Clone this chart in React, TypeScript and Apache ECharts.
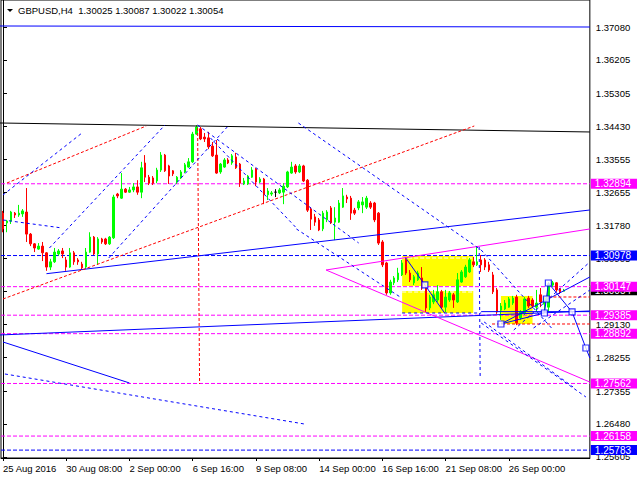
import React, { useEffect, useRef } from "react";
import * as echarts from "echarts";

const FONT = '"Liberation Sans", Arial, sans-serif';

// ---- time axis (H4 bars) ----
const tradingDays = ["25 Aug", "26 Aug", "29 Aug", "30 Aug", "31 Aug", "1 Sep", "2 Sep", "5 Sep", "6 Sep", "7 Sep", "8 Sep", "9 Sep", "12 Sep", "13 Sep", "14 Sep", "15 Sep", "16 Sep", "19 Sep", "20 Sep", "21 Sep", "22 Sep", "23 Sep", "26 Sep", "27 Sep", "28 Sep"];
const barHours = ["00:00", "04:00", "08:00", "12:00", "16:00", "20:00"];
const FIRST_BAR = 4; // 25 Aug 16:00
const FUTURE_SLOTS = 6;

// ---- OHLC values ----
const opens = [1.3211,1.3185,1.3190,1.3211,1.3206,1.3209,1.3214,1.3155,1.3129,1.3115,1.3123,1.3105,1.3067,1.3081,1.3102,1.3110,1.3086,1.3067,1.3105,1.3086,
1.3075,1.3067,1.3107,1.3147,1.3102,1.3142,1.3142,1.3129,1.3145,1.3262,1.3251,1.3275,1.3267,1.3273,1.3281,1.3267,1.3345,1.3307,1.3305,1.3297,
1.3326,1.3366,1.3337,1.3324,1.3294,1.3305,1.3321,1.3334,1.3348,1.3422,1.3436,1.3414,1.3412,1.3390,1.3366,1.3321,1.3334,1.3353,1.3345,1.3361,
1.3342,1.3289,1.3289,1.3307,1.3329,1.3294,1.3302,1.3260,1.3262,1.3267,1.3265,1.3267,1.3281,1.3318,1.3337,1.3321,1.3337,1.3299,1.3222,1.3201,
1.3193,1.3169,1.3193,1.3225,1.3187,1.3187,1.3227,1.3254,1.3251,1.3219,1.3225,1.3233,1.3227,1.3238,1.3238,1.3211,1.3134,1.3078,1.2998,1.3025,
1.3033,1.3046,1.3086,1.3051,1.3025,1.3033,1.3038,1.3011,1.2958,1.2974,1.2979,1.3001,1.2960,1.2979,1.2993,1.2974,1.3027,1.3041,1.3054,1.3081,
1.3073,1.3086,1.3086,1.3073,1.3046,1.3006,1.2952,1.2955,1.2960,1.2971,1.2987,1.2931,1.2944,1.2984,1.2979,1.2960,1.2993,1.2968,1.2960,1.3019,
1.3025,1.3009,1.30025];
const highs = [1.3217,1.3193,1.3217,1.3214,1.3233,1.3222,1.3278,1.3158,1.3131,1.3131,1.3134,1.3107,1.3089,1.3118,1.3115,1.3118,1.3094,1.3118,1.3110,1.3091,
1.3081,1.3118,1.3160,1.3150,1.3147,1.3145,1.3145,1.3150,1.3260,1.3265,1.3318,1.3278,1.3281,1.3291,1.3299,1.3348,1.3366,1.3313,1.3310,1.3332,
1.3374,1.3369,1.3340,1.3326,1.3310,1.3326,1.3345,1.3358,1.3428,1.3446,1.3441,1.3425,1.3428,1.3401,1.3406,1.3345,1.3358,1.3358,1.3369,1.3372,
1.3345,1.3305,1.3313,1.3334,1.3332,1.3307,1.3305,1.3278,1.3270,1.3275,1.3278,1.3291,1.3324,1.3348,1.3342,1.3342,1.3340,1.3302,1.3227,1.3209,
1.3198,1.3217,1.3219,1.3230,1.3227,1.3246,1.3278,1.3260,1.3257,1.3225,1.3246,1.3254,1.3257,1.3243,1.3241,1.3214,1.3139,1.3081,1.3033,1.3043,
1.3065,1.3086,1.3091,1.3059,1.3046,1.3057,1.3067,1.3014,1.2993,1.3006,1.3019,1.3006,1.3006,1.3003,1.2998,1.3051,1.3059,1.3073,1.3091,1.3094,
1.3121,1.3099,1.3091,1.3081,1.3054,1.3011,1.2971,1.2979,1.2987,1.2990,1.2993,1.2952,1.2987,1.2990,1.2984,1.3006,1.3011,1.2987,1.3027,1.3030,
1.3027,1.3011,1.30087];
const lows = [1.3160,1.3160,1.3182,1.3198,1.3201,1.3201,1.3134,1.3123,1.3107,1.3113,1.3083,1.3057,1.3059,1.3078,1.3097,1.3091,1.3057,1.3065,1.3073,1.3073,
1.3059,1.3062,1.3105,1.3099,1.3073,1.3129,1.3126,1.3126,1.3142,1.3251,1.3249,1.3265,1.3265,1.3267,1.3260,1.3251,1.3294,1.3286,1.3286,1.3291,
1.3321,1.3321,1.3289,1.3310,1.3289,1.3302,1.3318,1.3332,1.3345,1.3420,1.3406,1.3401,1.3382,1.3361,1.3316,1.3316,1.3332,1.3342,1.3340,1.3329,
1.3281,1.3286,1.3286,1.3305,1.3283,1.3291,1.3235,1.3246,1.3257,1.3254,1.3262,1.3235,1.3278,1.3316,1.3316,1.3318,1.3294,1.3214,1.3166,1.3177,
1.3163,1.3163,1.3187,1.3182,1.3139,1.3185,1.3225,1.3238,1.3193,1.3206,1.3219,1.3211,1.3222,1.3222,1.3187,1.3126,1.3067,1.2993,1.2993,1.3019,
1.3027,1.3043,1.3046,1.3027,1.3019,1.3030,1.3006,1.2947,1.2952,1.2968,1.2974,1.2955,1.2947,1.2974,1.2958,1.2971,1.3025,1.3038,1.3051,1.3067,
1.3070,1.3054,1.3059,1.3054,1.2995,1.2942,1.2926,1.2952,1.2958,1.2966,1.2912,1.2926,1.2939,1.2958,1.2958,1.2947,1.2960,1.2947,1.2947,1.3014,
1.3001,1.2995,1.30022];
const closes = [1.3169,1.3190,1.3214,1.3206,1.3211,1.3217,1.3155,1.3129,1.3118,1.3123,1.3105,1.3067,1.3081,1.3107,1.3110,1.3102,1.3067,1.3105,1.3081,1.3081,
1.3065,1.3107,1.3147,1.3102,1.3142,1.3134,1.3129,1.3147,1.3254,1.3257,1.3275,1.3267,1.3273,1.3281,1.3267,1.3332,1.3307,1.3291,1.3291,1.3326,
1.3366,1.3324,1.3310,1.3316,1.3307,1.3321,1.3340,1.3348,1.3422,1.3441,1.3409,1.3409,1.3388,1.3364,1.3318,1.3342,1.3353,1.3345,1.3364,1.3332,
1.3291,1.3297,1.3310,1.3326,1.3294,1.3302,1.3260,1.3270,1.3265,1.3267,1.3273,1.3283,1.3321,1.3334,1.3321,1.3337,1.3297,1.3219,1.3195,1.3187,
1.3166,1.3211,1.3214,1.3185,1.3198,1.3238,1.3257,1.3249,1.3211,1.3211,1.3241,1.3241,1.3251,1.3227,1.3193,1.3131,1.3073,1.2998,1.3027,1.3038,
1.3051,1.3078,1.3051,1.3033,1.3041,1.3051,1.3011,1.2958,1.2987,1.2993,1.3001,1.2960,1.2987,1.2998,1.2979,1.3033,1.3054,1.3067,1.3086,1.3073,
1.3081,1.3073,1.3067,1.3059,1.3001,1.2947,1.2963,1.2971,1.2982,1.2984,1.2918,1.2947,1.2982,1.2963,1.2963,1.2971,1.2974,1.2984,1.3022,1.3025,
1.3006,1.3001,1.30054];

// ---- price scale ----
const Y_MAX = 1.37801;
const Y_MIN = 1.25572;
const yTickLabels = [1.3708, 1.36205, 1.35305, 1.3443, 1.33555, 1.32655, 1.3178, 1.30905, 1.3003, 1.2913, 1.28255, 1.27355, 1.2648, 1.25605];
const magentaLevels = [1.32894, 1.30147, 1.29385, 1.28892, 1.27562, 1.26158];
const blueLevels = [1.30978, 1.25783];

// ---- drawn objects: anchor points as [bar index, price] ----
const blueSolidLines = [
  [[-0.75, 1.37107], [148.5, 1.3708]],
  [[11, 1.30493], [148.5, 1.32194]],
  [[0, 1.2867], [32, 1.27575]],
  [[-0.75, 1.28857], [148.5, 1.29498]],
  [[121, 1.2948], [148.5, 1.2948]],
  [[126, 1.2915], [148.5, 1.30405]],
  [[101.75, 1.30939], [106.75, 1.30192], [111.75, 1.29444]],
  [[126, 1.2915], [137, 1.29444], [137.5, 1.29818], [138, 1.30245], [144, 1.29471], [147.5, 1.28509], [148.5, 1.28243]],
];
const blackSolidLines = [[[-0.75, 1.34517], [148.5, 1.34277]]];
const magentaSolidLines = [
  [[81.75, 1.30592], [148.5, 1.31687]],
  [[81.75, 1.30592], [148.5, 1.276]],
];
const redDashedLines = [
  [[1, 1.32915], [36.25, 1.34437]],
  [[0, 1.29818], [119.25, 1.34437]],
  [[49.25, 1.34383], [49.75, 1.27548]],
  [[136.75, 1.29871], [148.5, 1.29871]],
  [[123.75, 1.2915], [148.5, 1.2915]],
];
const blueDashedLines = [
  [[0, 1.32595], [20, 1.3425]],
  [[11.75, 1.31179], [41, 1.34464]],
  [[26.75, 1.30912], [56.75, 1.3441]],
  [[0, 1.31927], [15, 1.31713]],
  [[0.5, 1.27815], [76.25, 1.2648]],
  [[120.5, 1.31206], [120.75, 1.27682]],
  [[74.75, 1.34517], [121, 1.31126]],
  [[52.5, 1.34117], [74.25, 1.31713]],
  [[49.25, 1.34464], [90, 1.31313]],
  [[74.25, 1.31687], [100.5, 1.29871]],
  [[101, 1.29444], [121, 1.29444]],
  [[121, 1.31126], [139.25, 1.2899]],
  [[129.25, 1.2899], [148.5, 1.30806]],
  [[134.25, 1.29043], [148.5, 1.30058]],
  [[121, 1.29177], [147.5, 1.27201]],
  [[121.75, 1.29204], [144.25, 1.27468]],
];
const whiteDashedLines = [
  [[101, 1.30912], [119, 1.30912]],
  [[101, 1.30004], [119, 1.30004]],
];
const yellowBoxes = [
  [[101, 1.30966], [119, 1.30165]],
  [[101, 1.30031], [119, 1.29444]],
  [[126, 1.29898], [134, 1.2915]],
];
const pivotSquares = [[106.75, 1.30192], [126, 1.2915], [137, 1.29444], [137.5, 1.29818], [138, 1.30245], [144, 1.29471], [147.5, 1.28509]];

export default function App() {
  const ref = useRef<HTMLDivElement>(null);
  useEffect(() => {
    const chart = echarts.init(ref.current!, null, { renderer: "svg" });

    const allSlots: string[] = [];
    tradingDays.forEach((d) => barHours.forEach((h) => allSlots.push(d + "|" + h)));
    const nBars = opens.length;
    const categories = allSlots.slice(FIRST_BAR, FIRST_BAR + nBars);
    for (let k = 0; k < FUTURE_SLOTS; k++) categories.push("");
    const nCat = categories.length;

    const candleData = opens.map((o, i) => {
      const v = [o, closes[i], lows[i], highs[i]];
      if (o === closes[i]) {
        return { value: v, itemStyle: { color: "#000", color0: "#000", borderColor: "#000", borderColor0: "#000" } };
      }
      return v;
    });

    const labelShown = (idx: number) => idx % 16 === 0 && idx < nBars;
    const fmt = (v: number) => v.toFixed(5);

    const lineSeries = (pts: number[][], color: string, type: any, z = 4) => ({
      type: "line",
      xAxisIndex: 1,
      yAxisIndex: 0,
      data: pts,
      symbol: "none",
      silent: true,
      z,
      lineStyle: { color, width: 1, type },
    });

    const series: any[] = [];
    series.push({
      type: "line",
      xAxisIndex: 1,
      yAxisIndex: 0,
      data: [],
      z: 1,
      silent: true,
      markArea: {
        silent: true,
        itemStyle: { color: "#ffff00", opacity: 1 },
        data: yellowBoxes.map((b) => [{ coord: b[0] }, { coord: b[1] }]),
      },
    });
    magentaLevels.forEach((v) => series.push(lineSeries([[-0.5, v], [148.5, v]], "#ff00ff", [4, 2], 2)));
    blueLevels.forEach((v) => series.push(lineSeries([[-0.5, v], [148.5, v]], "#0000ff", [4, 2], 2)));
    whiteDashedLines.forEach((p) => series.push(lineSeries(p, "#ffffff", [4, 2], 2)));
    series.push({
      type: "candlestick",
      xAxisIndex: 0,
      yAxisIndex: 0,
      data: candleData,
      barWidth: 2,
      z: 3,
      silent: true,
      itemStyle: { color: "#00ff00", color0: "#ff0000", borderColor: "#00ff00", borderColor0: "#ff0000", borderWidth: 1 },
    });
    blackSolidLines.forEach((p) => series.push(lineSeries(p, "#000000", "solid")));
    blueSolidLines.forEach((p) => series.push(lineSeries(p, "#0000ff", "solid")));
    magentaSolidLines.forEach((p) => series.push(lineSeries(p, "#ff00ff", "solid")));
    redDashedLines.forEach((p) => series.push(lineSeries(p, "#ff0000", [3, 2])));
    blueDashedLines.forEach((p) => series.push(lineSeries(p, "#0000ff", [3, 3])));
    series.push({
      type: "scatter",
      xAxisIndex: 1,
      yAxisIndex: 0,
      data: pivotSquares,
      symbol: "rect",
      symbolSize: 6,
      silent: true,
      z: 6,
      itemStyle: { color: "#ffffff", borderColor: "#0000ff", borderWidth: 1.2 },
    });

    const last = nBars - 1;
    const boxStyle = (bg: string) => ({
      backgroundColor: bg,
      color: "#ffffff",
      fontFamily: FONT,
      fontSize: 10,
      lineHeight: 13,
      padding: [0, 6, 0, 4],
    });

    const option: any = {
      animation: false,
      backgroundColor: "#ffffff",
      title: {
        text: `GBPUSD,H4  ${fmt(opens[last])} ${fmt(highs[last])} ${fmt(lows[last])} ${fmt(closes[last])}`,
        left: 18,
        top: 5,
        padding: 0,
        textStyle: { fontFamily: FONT, fontSize: 9.5, fontWeight: "normal", color: "#000" },
      },
      graphic: [
        { type: "polygon", shape: { points: [[7, 9], [13, 9], [10, 12]] }, style: { fill: "#000" }, z: 10 },
      ],
      grid: { left: 1, right: 43, top: 0, bottom: 22, show: true, borderColor: "#000", borderWidth: 1, backgroundColor: "transparent" },
      xAxis: [
        {
          type: "category",
          data: categories,
          boundaryGap: true,
          axisLine: { show: true, lineStyle: { color: "#000" } },
          axisTick: { show: true, alignWithLabel: true, interval: (idx: number) => labelShown(idx), length: 3, lineStyle: { color: "#000" } },
          axisLabel: {
            show: true,
            showMinLabel: true,
            interval: (idx: number) => labelShown(idx),
            formatter: (val: string, idx: number) => {
              const [d, h] = val.split("|");
              return idx === 0 ? d + " 2016" : d + " " + h;
            },
            align: "left",
            margin: 5,
            color: "#000",
            fontFamily: FONT,
            fontSize: 9.5,
          },
          splitLine: { show: false },
        },
        { type: "value", min: -0.5, max: nCat - 0.5, show: false },
      ],
      yAxis: [
        {
          type: "value",
          position: "right",
          min: Y_MIN,
          max: Y_MAX,
          axisLine: { show: true, lineStyle: { color: "#000" } },
          axisTick: { show: true, length: 4, customValues: yTickLabels, lineStyle: { color: "#000" } },
          axisLabel: { customValues: yTickLabels, formatter: (v: number) => fmt(v), margin: 6, color: "#000", fontFamily: FONT, fontSize: 9.5 },
          splitLine: { show: false },
        },
        {
          type: "value",
          position: "right",
          min: Y_MIN,
          max: Y_MAX,
          axisLine: { show: false },
          axisTick: { show: false },
          splitLine: { show: false },
          axisLabel: {
            customValues: [closes[last]],
            formatter: (v: number) => `{k|${fmt(v)}}`,
            margin: 1,
            rich: { k: boxStyle("#000000") },
          },
        },
        {
          type: "value",
          position: "right",
          min: Y_MIN,
          max: Y_MAX,
          axisLine: { show: false },
          axisTick: { show: false },
          splitLine: { show: false },
          axisLabel: {
            customValues: [...magentaLevels, ...blueLevels],
            formatter: (v: number) => (blueLevels.includes(v) ? `{u|${fmt(v)}}` : `{m|${fmt(v)}}`),
            margin: 1,
            rich: { m: boxStyle("#ff00ff"), u: boxStyle("#0000ff") },
          },
        },
      ],
      series,
    };

    chart.setOption(option);
    return () => chart.dispose();
  }, []);
  return <div ref={ref} style={{ position: "absolute", left: 0, top: 0, width: 640, height: 480 }} />;
}
